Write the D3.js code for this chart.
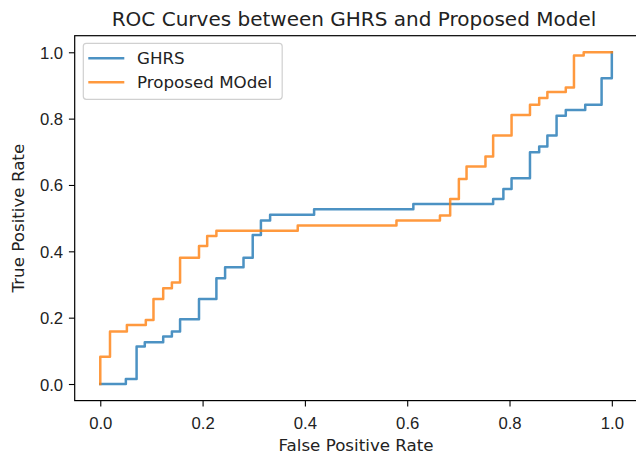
<!DOCTYPE html>
<html>
<head>
<meta charset="utf-8">
<script src="https://cdn.jsdelivr.net/npm/d3@7"></script>
<style>
	body { margin: 0; background: #fff; }
	svg { display: block; font-family: "DejaVu Sans", sans-serif; }
	.tick text { fill: #222; }
</style>
</head>
<body>
<div class="roc-chart"></div>
<script>
// values
const title = "ROC Curves between GHRS and Proposed Model";
const seriesNames = ["GHRS", "Proposed MOdel"];
const xTicks = [0, 0.2, 0.4, 0.6, 0.8, 1.0];
const yTicks = [0, 0.2, 0.4, 0.6, 0.8, 1.0];

const ghrsFpr = [0, 0.050, 0.071, 0.087, 0.123, 0.140, 0.156, 0.193, 0.227, 0.244, 0.280, 0.298, 0.314, 0.332, 0.418, 0.612, 0.768, 0.788, 0.804, 0.840, 0.858, 0.874, 0.892, 0.910, 0.948, 0.980, 1.0];
const ghrsTpr = [0, 0.015, 0.113, 0.126, 0.143, 0.158, 0.195, 0.256, 0.319, 0.352, 0.381, 0.449, 0.493, 0.510, 0.527, 0.543, 0.558, 0.588, 0.620, 0.699, 0.716, 0.749, 0.809, 0.826, 0.842, 0.922, 1.0];

const proposedFpr = [0, 0, 0.019, 0.052, 0.089, 0.104, 0.123, 0.140, 0.156, 0.193, 0.209, 0.227, 0.386, 0.579, 0.664, 0.684, 0.701, 0.716, 0.753, 0.768, 0.804, 0.840, 0.858, 0.874, 0.910, 0.926, 0.945, 1.0];
const proposedTpr = [0, 0.082, 0.158, 0.178, 0.193, 0.256, 0.289, 0.306, 0.381, 0.416, 0.446, 0.462, 0.478, 0.493, 0.508, 0.558, 0.618, 0.656, 0.686, 0.749, 0.811, 0.842, 0.862, 0.880, 0.894, 0.990, 1.0, 1.0];

const colors = ["#1f77b4", "#ff7f0e"];

class RocChart {
	constructor(userOpts = {}) {
		let defaultOpts = {
			selector: ".roc-chart",
			width: 636,
			height: 456,
			margin: { left: 74.7, right: 637.4, top: 35.7, bottom: 400.6 },
			fontSize: 16.7
		}
		this.options = Object.assign(defaultOpts, userOpts);
		this.svg = d3.select(this.options.selector).append("svg")
			.attr("width", this.options.width)
			.attr("height", this.options.height);
		this.init();
	}

	drawAxes() {
		const o = this.options, fs = o.fontSize;

		const xAxis = d3.axisBottom(this.x).tickValues(xTicks).tickFormat(d3.format(".1f"))
			.tickSize(5.8).tickPadding(5.8);
		const gx = this.svg.append("g")
			.attr("transform", "translate(0," + o.margin.bottom + ")")
			.call(xAxis);
		gx.select(".domain").remove();
		gx.selectAll(".tick line").attr("stroke", "#000").attr("stroke-width", 1.1);
		gx.selectAll(".tick text").attr("font-size", fs).attr("font-family", null).attr("dy", "1.0em");

		const yAxis = d3.axisLeft(this.y).tickValues(yTicks).tickFormat(d3.format(".1f"))
			.tickSize(5.8).tickPadding(5.8);
		const gy = this.svg.append("g")
			.attr("transform", "translate(" + o.margin.left + ",0)")
			.call(yAxis);
		gy.select(".domain").remove();
		gy.selectAll(".tick line").attr("stroke", "#000").attr("stroke-width", 1.1);
		gy.selectAll(".tick text").attr("font-size", fs).attr("font-family", null).attr("dy", "0.36em");

		// frame (right spine falls just outside the picture, as in the reference)
		this.svg.append("rect")
			.attr("x", o.margin.left)
			.attr("y", o.margin.top)
			.attr("width", o.margin.right - o.margin.left)
			.attr("height", o.margin.bottom - o.margin.top)
			.attr("fill", "none")
			.attr("stroke", "#000")
			.attr("stroke-width", 1.2);

		const midX = (o.margin.left + o.margin.right) / 2,
					midY = (o.margin.top + o.margin.bottom) / 2;

		this.svg.append("text")
			.attr("x", midX).attr("y", 451)
			.attr("text-anchor", "middle")
			.attr("font-size", fs).attr("fill", "#222")
			.text("False Positive Rate");

		this.svg.append("text")
			.attr("transform", "translate(24," + midY + ") rotate(-90)")
			.attr("text-anchor", "middle")
			.attr("font-size", fs).attr("fill", "#222")
			.text("True Positive Rate");

		this.svg.append("text")
			.attr("x", 354).attr("y", 25.5)
			.attr("text-anchor", "middle")
			.attr("font-size", 20).attr("fill", "#222")
			.text(title);
	}

	drawLines() {
		const self = this;
		const line = d3.line()
			.x(d => self.x(d[0]))
			.y(d => self.y(d[1]))
			.curve(d3.curveStepAfter);

		const series = [d3.zip(ghrsFpr, ghrsTpr), d3.zip(proposedFpr, proposedTpr)];
		series.forEach(function(pts, i) {
			self.svg.append("path")
				.attr("d", line(pts))
				.attr("fill", "none")
				.attr("stroke", colors[i])
				.attr("stroke-opacity", 0.8)
				.attr("stroke-width", 2.5)
				.attr("stroke-linejoin", "round")
				.attr("stroke-linecap", "square");
		});
	}

	drawLegend() {
		const o = this.options, fs = o.fontSize;
		const boxX = 83.3, boxY = 43.3, rowH = 24,
					handleX0 = 88.3, handleX1 = 124.3, textX = 137,
					firstRow = 58.3;
		const legend = this.svg.append("g");
		const frame = legend.append("rect")
			.attr("x", boxX).attr("y", boxY)
			.attr("rx", 3).attr("ry", 3)
			.attr("height", 56)
			.attr("fill", "#fff").attr("fill-opacity", 0.8)
			.attr("stroke", "#d0d0d0").attr("stroke-width", 1.2);

		let maxW = 0;
		seriesNames.forEach(function(name, i) {
			const cy = firstRow + i * rowH;
			legend.append("line")
				.attr("x1", handleX0).attr("x2", handleX1)
				.attr("y1", cy).attr("y2", cy)
				.attr("stroke", colors[i]).attr("stroke-opacity", 0.8)
				.attr("stroke-width", 2.5);
			const t = legend.append("text")
				.attr("x", textX).attr("y", cy)
				.attr("dy", "0.36em")
				.attr("font-size", fs).attr("fill", "#222")
				.text(name);
			maxW = Math.max(maxW, t.node().getComputedTextLength());
		});
		frame.attr("width", textX - boxX + maxW + 10);
	}

	init() {
		const o = this.options;
		this.x = d3.scaleLinear().domain([-0.05, 1.05]).range([o.margin.left, o.margin.right]);
		this.y = d3.scaleLinear().domain([-0.05, 1.05]).range([o.margin.bottom, o.margin.top]);
		this.drawAxes();
		this.drawLines();
		this.drawLegend();
	}
};

const chart = new RocChart();
</script>
</body>
</html>
